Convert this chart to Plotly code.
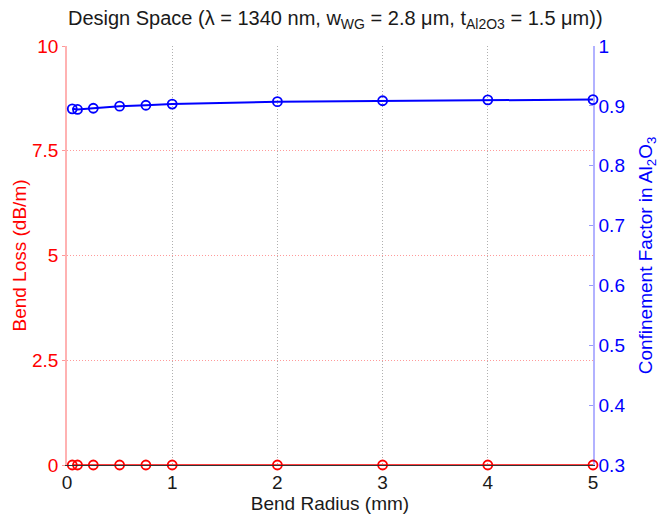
import plotly.graph_objects as go

bend_radius_mm = [0.05, 0.1, 0.25, 0.5, 0.75, 1, 2, 3, 4, 5]
bend_loss_db_m = [0, 0, 0, 0, 0, 0, 0, 0, 0, 0]
confinement = [0.895, 0.894, 0.896, 0.8995, 0.901, 0.903, 0.907, 0.9085, 0.910, 0.9105]

x_ticks = [0, 1, 2, 3, 4, 5]
left_ticks = [0, 2.5, 5, 7.5, 10]
right_ticks = [0.3, 0.4, 0.5, 0.6, 0.7, 0.8, 0.9, 1]

FONT = "Liberation Sans, Arial, sans-serif"

fig = go.Figure()
fig.add_trace(go.Scatter(
    x=bend_radius_mm, y=bend_loss_db_m, mode="lines+markers",
    line=dict(color="#ff0000", width=1.5),
    marker=dict(symbol="circle-open", size=9, color="#ff0000", line=dict(width=1.8)),
    yaxis="y", showlegend=False, cliponaxis=False))
fig.add_trace(go.Scatter(
    x=bend_radius_mm, y=confinement, mode="lines+markers",
    line=dict(color="#0000ff", width=2),
    marker=dict(symbol="circle-open", size=9, color="#0000ff", line=dict(width=1.8)),
    yaxis="y2", showlegend=False, cliponaxis=False))

fig.update_layout(
    width=671, height=518,
    margin=dict(l=67, r=78, t=46, b=49),
    paper_bgcolor="white", plot_bgcolor="white",
    font=dict(family=FONT, size=19, color="black"),
    title=dict(
        text="Design Space (λ = 1340 nm, w<sub>WG</sub> = 2.8 μm, t<sub>Al2O3</sub> = 1.5 μm))",
        x=0.51, xref="paper", xanchor="center", y=0.965, yanchor="middle",
        font=dict(family=FONT, size=20, color="#1a1a1a")),
    xaxis=dict(
        range=[0, 5], tickvals=x_ticks, ticktext=[str(t) for t in x_ticks],
        showgrid=True, gridcolor="#b0b0b0", griddash="1px,2px", gridwidth=1,
        showline=True, linecolor="#333333", linewidth=1,
        ticks="", zeroline=False,
        title=dict(text="Bend Radius (mm)", standoff=0, font=dict(size=19, color="#1a1a1a")),
        tickfont=dict(size=19, color="#1a1a1a")),
    yaxis=dict(
        range=[0, 10], tickvals=left_ticks, ticktext=["0", "2.5", "5", "7.5", "10"],
        showgrid=True, gridcolor="#ff9a9a", griddash="1px,2px", gridwidth=1,
        showline=True, linecolor="rgba(255,0,0,0.3)", linewidth=1.5,
        ticks="outside", ticklen=3, tickcolor="rgba(255,0,0,0.4)",
        zeroline=False, color="#ff0000",
        title=dict(text="Bend Loss (dB/m)", standoff=0, font=dict(size=19, color="#ff0000")),
        tickfont=dict(size=19, color="#ff0000")),
    yaxis2=dict(
        range=[0.3, 1], tickvals=right_ticks, ticktext=["0.3", "0.4", "0.5", "0.6", "0.7", "0.8", "0.9", "1"],
        overlaying="y", side="right", showgrid=False,
        showline=True, linecolor="rgba(0,0,255,0.3)", linewidth=1.5,
        ticks="inside", ticklen=4, tickcolor="rgba(0,0,255,0.4)",
        zeroline=False,
        title=dict(text="Confinement Factor in Al<sub>2</sub>O<sub>3</sub>", standoff=14,
                   font=dict(size=19, color="#0000ff")),
        tickfont=dict(size=19, color="#0000ff")),
)

fig.write_html("out.html")
